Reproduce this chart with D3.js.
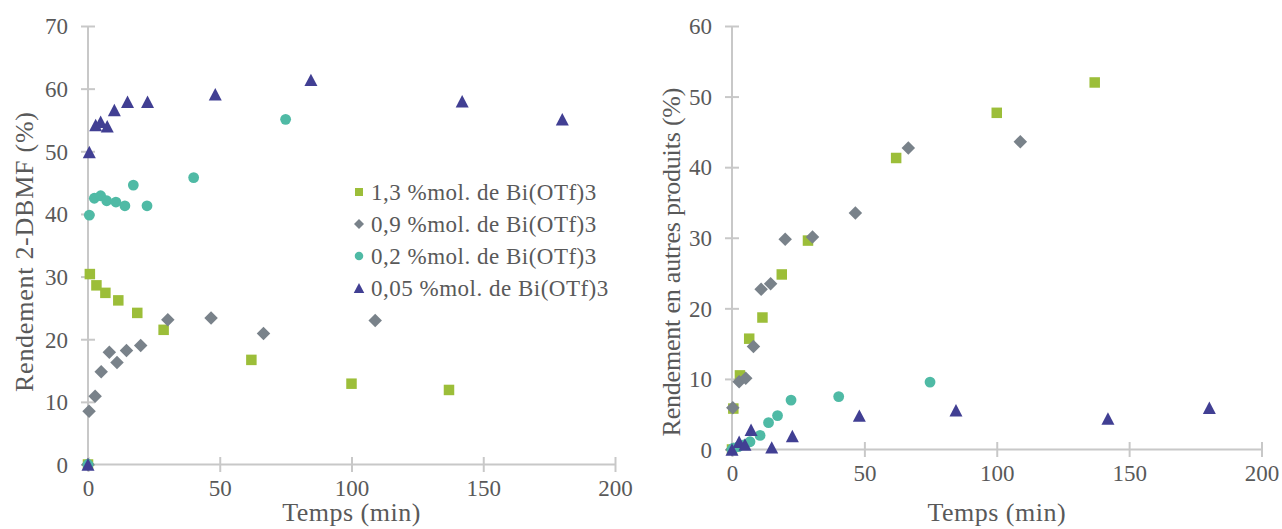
<!DOCTYPE html>
<html><head><meta charset="utf-8">
<script src="https://cdn.jsdelivr.net/npm/d3@7"></script>
<style>
html,body{margin:0;padding:0;background:#fff;}
svg{display:block;}
text{font-family:"Liberation Serif","Times New Roman",serif;fill:#595959;}
</style></head>
<body>
<svg id="c" width="1282" height="529"></svg>
<script>
// ---------- data ----------
const seriesNames = ["1,3 %mol. de Bi(OTf)3", "0,9 %mol. de Bi(OTf)3", "0,2 %mol. de Bi(OTf)3", "0,05 %mol. de Bi(OTf)3"];
const seriesColors = ["#9cbe39", "#79828a", "#4fbaa5", "#413f93"];
const seriesShapes = ["square", "diamond", "circle", "triangle"];

// Left chart: Rendement 2-DBMF (%)
const t13L = [0, 0.7, 3.2, 6.6, 11.5, 18.7, 28.7, 62, 100, 137];
const y13L = [0, 30.4, 28.6, 27.4, 26.2, 24.2, 21.5, 16.7, 12.9, 11.9];
const t09L = [0, 0.4, 2.7, 5, 8.1, 11, 14.6, 20, 30.3, 46.7, 66.6, 109];
const y09L = [0, 8.5, 10.9, 14.8, 17.9, 16.3, 18.2, 19.0, 23.1, 23.4, 20.9, 23.0];
const t02L = [0, 0.5, 2.4, 4.8, 7.1, 10.6, 14, 17.2, 22.4, 40.1, 75];
const y02L = [0, 39.8, 42.5, 42.9, 42.1, 41.9, 41.3, 44.6, 41.3, 45.8, 55.1];
const t005L = [0, 0.5, 2.9, 4.8, 7.3, 10, 15, 22.6, 48.3, 84.6, 142, 180];
const y005L = [0, 49.9, 54.2, 54.7, 54.0, 56.6, 57.9, 57.9, 59.1, 61.4, 58.0, 55.1];

// Right chart: Rendement en autres produits (%)
const t13R = [0, 0.5, 3, 6.5, 11.5, 18.8, 28.7, 62, 100, 137];
const y13R = [0, 5.8, 10.5, 15.7, 18.7, 24.8, 29.6, 41.3, 47.7, 52.0];
const t09R = [0, 0.3, 2.7, 5.2, 8.1, 11, 14.6, 20.1, 30.4, 46.6, 66.6, 108.9];
const y09R = [0, 5.9, 9.6, 10.1, 14.6, 22.7, 23.5, 29.8, 30.1, 33.5, 42.7, 43.6];
const t02R = [0, 0.5, 2.4, 4.8, 6.8, 10.6, 13.8, 17.2, 22.3, 40.3, 74.8];
const y02R = [0, 0.2, 0.4, 0.7, 1.1, 2.0, 3.8, 4.8, 7.0, 7.5, 9.55];
const t005R = [0, 2.7, 4.9, 7.2, 15, 22.8, 48.1, 84.6, 142, 180.3];
const y005R = [0, 1.1, 0.7, 2.8, 0.3, 1.9, 4.8, 5.55, 4.4, 5.9];

const xTicks = [0, 50, 100, 150, 200];
const yTicksL = [0, 10, 20, 30, 40, 50, 60, 70];
const yTicksR = [0, 10, 20, 30, 40, 50, 60];
const xTitle = "Temps (min)";
const yTitleL = "Rendement 2-DBMF (%)";
const yTitleR = "Rendement en autres produits (%)";

// ---------- drawing ----------
const svg = d3.select("#c");
const AX = "#c8c8c8";

function markerPath(shape, s) {
  if (shape === "square") return `M${-s/2},${-s/2}h${s}v${s}h${-s}Z`;
  if (shape === "diamond") return `M0,${-s/2}L${s/2},0L0,${s/2}L${-s/2},0Z`;
  if (shape === "triangle") { const h = s*0.96; return `M0,${-h/2}L${s/2},${h/2}L${-s/2},${h/2}Z`; }
  const r = s/2; return `M${r},0A${r},${r} 0 1,1 ${-r},0A${r},${r} 0 1,1 ${r},0Z`;
}
const markerSize = {square: 10.5, diamond: 13.5, circle: 10.8, triangle: 13};

function chart(opts) {
  const x = d3.scaleLinear().domain([0, 200]).range([opts.x0, opts.x1]);
  const y = d3.scaleLinear().domain([0, opts.ymax]).range([opts.y0, opts.y1]);
  const g = svg.append("g");

  // axes
  const xa = g.append("g").attr("transform", `translate(0,${opts.y0})`)
    .call(d3.axisBottom(x).tickValues(xTicks).tickSize(0).tickFormat(d3.format("d")));
  xa.select(".domain").attr("stroke", AX).attr("stroke-width", 2).attr("d", `M${opts.x0},0H${opts.x1}`);
  xa.selectAll(".tick line").attr("stroke", AX).attr("stroke-width", 2).attr("y1", -7.5).attr("y2", 7.5);
  xa.selectAll(".tick text").attr("fill", "#595959").attr("font-size", 23)
    .attr("font-family", "Liberation Serif").attr("dy", null).attr("y", opts.xLabelY);

  const ya = g.append("g").attr("transform", `translate(${opts.x0},0)`)
    .call(d3.axisLeft(y).tickValues(opts.yTicks).tickSize(0).tickFormat(d3.format("d")));
  ya.select(".domain").attr("stroke", AX).attr("stroke-width", 2).attr("d", `M0,${opts.y1}V${opts.y0}`);
  ya.selectAll(".tick line").attr("stroke", AX).attr("stroke-width", 2).attr("x1", -7).attr("x2", 7);
  ya.selectAll(".tick text").attr("fill", "#595959").attr("font-size", 23)
    .attr("font-family", "Liberation Serif").attr("x", opts.yLabelX).attr("dy", "0.34em");

  // titles
  g.append("text").attr("x", (opts.x0 + opts.x1) / 2).attr("y", 521).attr("text-anchor", "middle")
    .attr("font-size", 26).attr("letter-spacing", 0.5).text(xTitle);
  g.append("text").attr("transform", `translate(${opts.ytX},${opts.ytY}) rotate(-90)`)
    .attr("text-anchor", "middle").attr("font-size", 26)
    .attr("textLength", opts.ytLen).attr("lengthAdjust", "spacing").text(opts.yTitle);

  // points
  opts.series.forEach((s, i) => {
    const shape = seriesShapes[i];
    g.append("g").selectAll("path").data(s.t.map((t, k) => ({t, v: s.v[k]}))).join("path")
      .attr("transform", d => `translate(${x(d.t)},${y(d.v)})`)
      .attr("d", markerPath(shape, markerSize[shape]))
      .attr("fill", seriesColors[i]);
  });
  return g;
}

chart({
  x0: 88, x1: 615, y0: 464.5, y1: 26, ymax: 70, yTicks: yTicksL,
  xLabelY: 31, yLabelX: -20, ytX: 33, ytY: 252, ytLen: 280, yTitle: yTitleL,
  series: [{t: t13L, v: y13L}, {t: t09L, v: y09L}, {t: t02L, v: y02L}, {t: t005L, v: y005L}]
});
chart({
  x0: 732, x1: 1261.5, y0: 449.5, y1: 26, ymax: 60, yTicks: yTicksR,
  xLabelY: 31, yLabelX: -20, ytX: 680, ytY: 262, ytLen: 349, yTitle: yTitleR,
  series: [{t: t13R, v: y13R}, {t: t09R, v: y09R}, {t: t02R, v: y02R}, {t: t005R, v: y005R}]
});

// legend
const lg = svg.append("g");
const legY = [192, 224, 256, 288];
const legSize = {square: 8, diamond: 10, circle: 8.5, triangle: 10.5};
seriesNames.forEach((n, i) => {
  lg.append("path").attr("transform", `translate(359,${legY[i]})`)
    .attr("d", markerPath(seriesShapes[i], legSize[seriesShapes[i]])).attr("fill", seriesColors[i]);
  lg.append("text").attr("x", 371).attr("y", legY[i] + 8).attr("font-size", 23)
    .attr("letter-spacing", 0.5).text(n);
});
</script>
</body></html>
